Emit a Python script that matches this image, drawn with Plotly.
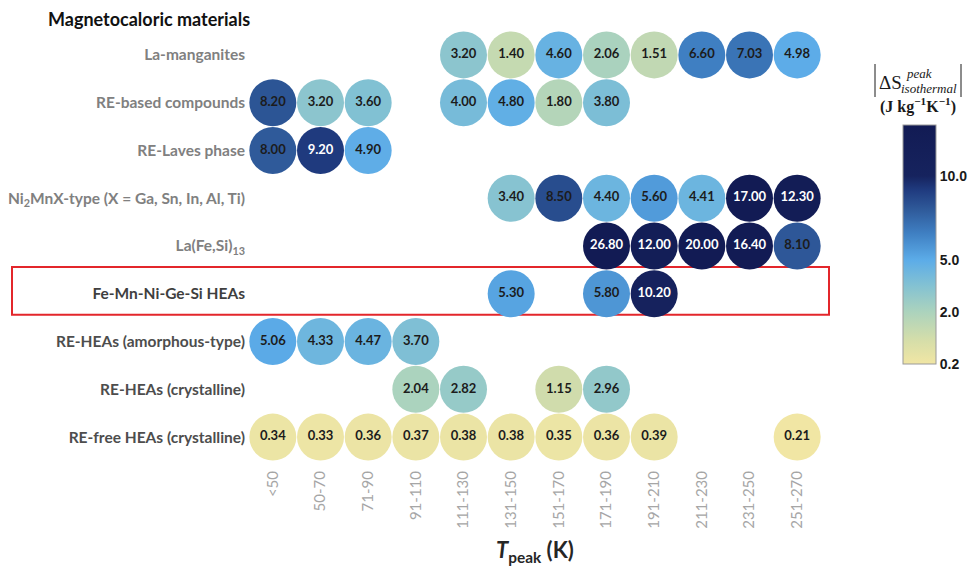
import numpy as np
import plotly.graph_objects as go

# ---------------- data ----------------
columns = ["<50", "50-70", "71-90", "91-110", "111-130", "131-150",
           "151-170", "171-190", "191-210", "211-230", "231-250", "251-270"]

rows = ["La-manganites", "RE-based compounds", "RE-Laves phase",
        "Ni2MnX-type (X = Ga, Sn, In, Al, Ti)", "La(Fe,Si)13",
        "Fe-Mn-Ni-Ge-Si HEAs", "RE-HEAs (amorphous-type)",
        "RE-HEAs (crystalline)", "RE-free HEAs (crystalline)"]

row_labels = ["La-manganites", "RE-based compounds", "RE-Laves phase",
              "Ni<sub>2</sub>MnX-type (X = Ga, Sn, In, Al, Ti)", "La(Fe,Si)<sub>13</sub>",
              "Fe-Mn-Ni-Ge-Si HEAs", "RE-HEAs (amorphous-type)",
              "RE-HEAs (crystalline)", "RE-free HEAs (crystalline)"]
row_label_colors = ["#808080", "#808080", "#808080", "#808080", "#808080",
                    "#3f3f3f", "#4d4d4d", "#4d4d4d", "#4d4d4d"]

N = None
la_manganites = [N, N, N, N, 3.20, 1.40, 4.60, 2.06, 1.51, 6.60, 7.03, 4.98]
re_based = [8.20, 3.20, 3.60, N, 4.00, 4.80, 1.80, 3.80, N, N, N, N]
re_laves = [8.00, 9.20, 4.90, N, N, N, N, N, N, N, N, N]
ni2mnx = [N, N, N, N, N, 3.40, 8.50, 4.40, 5.60, 4.41, 17.00, 12.30]
la_fe_si = [N, N, N, N, N, N, N, 26.80, 12.00, 20.00, 16.40, 8.10]
fe_mn_ni_ge_si = [N, N, N, N, N, 5.30, N, 5.80, 10.20, N, N, N]
re_heas_amorph = [5.06, 4.33, 4.47, 3.70, N, N, N, N, N, N, N, N]
re_heas_cryst = [N, N, N, 2.04, 2.82, N, 1.15, 2.96, N, N, N, N]
re_free_heas = [0.34, 0.33, 0.36, 0.37, 0.38, 0.38, 0.35, 0.36, 0.39, N, N, 0.21]

table = [la_manganites, re_based, re_laves, ni2mnx, la_fe_si,
         fe_mn_ni_ge_si, re_heas_amorph, re_heas_cryst, re_free_heas]

highlight_row = "Fe-Mn-Ni-Ge-Si HEAs"

# colour scale (non-linear, as in the reference colour bar)
scale_values = [0.2, 2.0, 5.0, 10.0, 13.0]
scale_positions = [0.0, 52.0, 104.0, 188.0, 239.0]
cbar_ticks = [0.2, 2.0, 5.0, 10.0]
cbar_ticktext = ["0.2", "2.0", "5.0", "10.0"]

color_stops_values = [0.2, 1.0, 2.0, 3.5, 5.0, 6.6, 8.0, 9.2, 10.0, 13.0]
color_stops_colors = ["#f1e6a4", "#d6dea9", "#acd3bd", "#84c2d2", "#5cace8",
                      "#3f7fc2", "#2f5a9a", "#1f3a7e", "#16235e", "#121b54"]


def to_scale(v):
    return np.interp(np.asarray(v, dtype=float), scale_values, scale_positions) / scale_positions[-1]


colorscale = [[float(to_scale(v)), c] for v, c in zip(color_stops_values, color_stops_colors)]

# ---------------- build points ----------------
xs, ys, vals = [], [], []
for r, series in zip(rows, table):
    for c, v in zip(columns, series):
        if v is not None:
            xs.append(c)
            ys.append(r)
            vals.append(v)
vals = np.array(vals)
texts = [f"<b>{v:.2f}</b>" for v in vals]
text_colors = ["#ffffff" if v >= 9 else "#1c1c1c" for v in vals]

# plot area geometry (pixels)
L, T, W, H = 249, 31, 572, 430
FW, FH = 968, 569


def px(x):
    return (x - L) / W


def py(y):
    return (T + H - y) / H


fig = go.Figure()
fig.add_trace(go.Scatter(
    x=xs, y=ys, mode="markers+text",
    text=texts, textposition="middle center",
    textfont=dict(family="Lato", size=13, color=text_colors),
    marker=dict(size=47, color=to_scale(vals), coloraxis="coloraxis",
                line=dict(width=0), opacity=1),
    hoverinfo="skip", showlegend=False, cliponaxis=False,
))

fig.update_layout(
    width=FW, height=FH,
    margin=dict(l=L, r=FW - L - W, t=T, b=FH - T - H, autoexpand=False),
    paper_bgcolor="white", plot_bgcolor="white",
    font=dict(family="Lato"),
    coloraxis=dict(
        colorscale=colorscale, cmin=0, cmax=1,
        colorbar=dict(
            xref="paper", x=px(903), xanchor="left",
            yref="paper", y=py(364), yanchor="bottom",
            len=239 / H, lenmode="fraction",
            thickness=33, thicknessmode="pixels",
            xpad=0, ypad=0,
            outlinewidth=1, outlinecolor="#9a9a9a",
            tickmode="array",
            tickvals=[float(t) for t in to_scale(cbar_ticks)],
            ticktext=[f"<b>{t}</b>" for t in cbar_ticktext],
            ticks="",
            tickfont=dict(family="Liberation Sans", size=14, color="#1a1a1a"),
        ),
    ),
    xaxis=dict(
        type="category", categoryorder="array", categoryarray=columns,
        range=[-0.5, len(columns) - 0.5],
        showgrid=False, zeroline=False, showline=False, ticks="",
        tickangle=-90, ticklabelstandoff=6,
        tickfont=dict(family="Lato", size=15, color="#a6a6a6"),
    ),
    yaxis=dict(
        type="category", categoryorder="array", categoryarray=rows,
        range=[len(rows) - 0.5, -0.5],
        showgrid=False, zeroline=False, showline=False, ticks="",
        tickmode="array", tickvals=rows,
        ticktext=[f"<span style='color:{c}'><b>{t}</b></span>" for t, c in zip(row_labels, row_label_colors)],
        ticklabelstandoff=3,
        tickfont=dict(family="Lato", size=15.5),
    ),
)

# highlight box around one row
hi = rows.index(highlight_row)
fig.add_shape(type="rect", xref="paper", yref="y",
              x0=px(12), x1=px(829),
              y0=hi - 0.56, y1=hi + 0.44,
              line=dict(color="#e3262b", width=2), fillcolor="rgba(0,0,0,0)", layer="below")

# title
fig.add_annotation(text="<b>Magnetocaloric materials</b>", xref="paper", yref="paper",
                   x=px(46), y=py(19), xanchor="left", yanchor="middle",
                   showarrow=False, font=dict(family="Lato", size=18, color="#111111"))

# x axis title
fig.add_annotation(text="<b><i>T</i></b><b><sub>peak</sub> (K)</b>", xref="paper", yref="paper",
                   x=px(535), y=py(551), xanchor="center", yanchor="middle",
                   showarrow=False, font=dict(family="Lato", size=22, color="#262626"))

# colour bar title (math-like)
serif = "Liberation Serif"
fig.add_annotation(text="ΔS", xref="paper", yref="paper",
                   x=px(877), y=py(83), xanchor="left", yanchor="middle",
                   showarrow=False, font=dict(family=serif, size=19, color="#1a1a1a"))
fig.add_annotation(text="<i>peak</i>", xref="paper", yref="paper",
                   x=px(904), y=py(73), xanchor="left", yanchor="middle",
                   showarrow=False, font=dict(family=serif, size=13, color="#1a1a1a"))
fig.add_annotation(text="<i>isothermal</i>", xref="paper", yref="paper",
                   x=px(899), y=py(88), xanchor="left", yanchor="middle",
                   showarrow=False, font=dict(family=serif, size=13, color="#1a1a1a"))
fig.add_annotation(text="<b>(J kg<sup>−1</sup>K<sup>−1</sup>)</b>", xref="paper", yref="paper",
                   x=px(918), y=py(106), xanchor="center", yanchor="middle",
                   showarrow=False, font=dict(family=serif, size=16, color="#1a1a1a"))
for xb in (875, 961):
    fig.add_shape(type="line", xref="paper", yref="paper",
                  x0=px(xb), x1=px(xb), y0=py(64), y1=py(97),
                  line=dict(color="#1a1a1a", width=1))

fig.write_html("out.html", post_script="document.body.style.margin='0px';",
               config={"displayModeBar": False})
